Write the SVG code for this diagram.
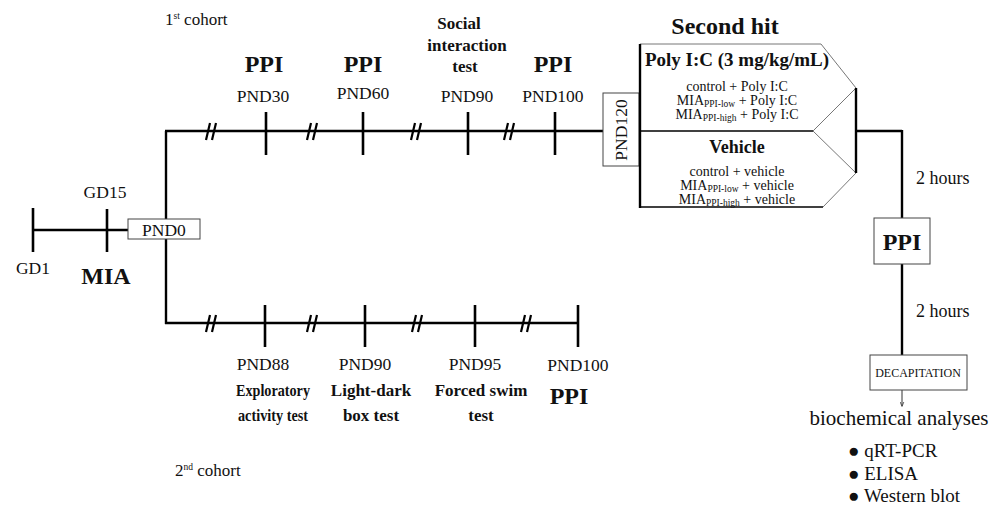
<svg xmlns="http://www.w3.org/2000/svg" width="998" height="508" viewBox="0 0 998 508">
<style>
text{font-family:"Liberation Serif","Times New Roman",serif;fill:#111}
.n{font-size:17.5px;text-anchor:middle}
.b{font-weight:bold;font-size:17px;text-anchor:middle}
.p{font-weight:bold;font-size:24px;text-anchor:middle}
.s{font-size:14px;text-anchor:middle}
.sub{font-size:9.5px}
.ln{stroke:#000;stroke-width:2.4;fill:none}
.tk{stroke:#000;stroke-width:2.6;fill:none}
.br{stroke:#000;stroke-width:2.2;fill:none}
.bx{fill:#fff;stroke:#444;stroke-width:1}
.th{stroke:#777;stroke-width:1;fill:none}
</style>
<defs>
<marker id="ah" viewBox="0 0 10 10" refX="9" refY="5" markerWidth="5" markerHeight="5" orient="auto"><path d="M0,1 L10,5 L0,9" fill="none" stroke="#333" stroke-width="1.5"/></marker>
</defs>
<g id="connectors">
<line class="ln" x1="33" y1="230" x2="128" y2="230"/>
<line class="ln" x1="166" y1="131" x2="166" y2="219"/>
<line class="ln" x1="166" y1="239" x2="166" y2="324"/>
<line class="ln" x1="165" y1="131" x2="603" y2="131"/>
<line class="ln" x1="165" y1="323" x2="578" y2="323"/>
<line class="ln" x1="856" y1="131" x2="902" y2="131"/>
<line class="ln" x1="902" y1="130" x2="902" y2="218"/>
<line class="ln" x1="902" y1="264" x2="902" y2="355"/>
<line x1="902" y1="390" x2="902" y2="406" stroke="#333" stroke-width="1" marker-end="url(#ah)"/>
<path class="br" d="M206,140 L210,123 M212,140 L216,123"/>
<path class="br" d="M307,140 L311,123 M313,140 L317,123"/>
<path class="br" d="M411,140 L415,123 M417,140 L421,123"/>
<path class="br" d="M504,140 L508,123 M510,140 L514,123"/>
<path class="br" d="M206,332 L210,315 M212,332 L216,315"/>
<path class="br" d="M307,332 L311,315 M313,332 L317,315"/>
<path class="br" d="M412,332 L416,315 M418,332 L422,315"/>
<path class="br" d="M521,332 L525,315 M527,332 L531,315"/>
</g>
<g id="gd1"><line class="tk" x1="33" y1="208" x2="33" y2="252"/><text class="n" x="33" y="274">GD1</text></g>
<g id="gd15"><line class="tk" x1="107" y1="209" x2="107" y2="252"/><text class="n" x="105" y="198">GD15</text><text class="p" x="106" y="284">MIA</text></g>
<g id="pnd0"><rect class="bx" x="128" y="219" width="72" height="20"/><text class="n" x="164" y="235.5">PND0</text></g>
<g id="cohort1-labels"><text x="165" y="25" style="font-size:17px">1<tspan class="sub" dy="-6">st</tspan><tspan dy="6"> cohort</tspan></text></g>
<g id="pnd30"><line class="tk" x1="266" y1="112" x2="266" y2="155"/><text class="n" x="263" y="102">PND30</text><text class="p" x="264" y="72">PPI</text></g>
<g id="pnd60"><line class="tk" x1="363" y1="112" x2="363" y2="155"/><text class="n" x="363" y="99">PND60</text><text class="p" x="363" y="72">PPI</text></g>
<g id="pnd90"><line class="tk" x1="468" y1="112" x2="468" y2="155"/><text class="n" x="467" y="102">PND90</text><text class="b" x="459" y="29">Social</text><text class="b" x="467" y="51">interaction</text><text class="b" x="465" y="72">test</text></g>
<g id="pnd100"><line class="tk" x1="555" y1="112" x2="555" y2="155"/><text class="n" x="553" y="102">PND100</text><text class="p" x="553" y="72">PPI</text></g>
<g id="pnd120"><rect class="bx" x="603" y="93" width="36" height="73"/><text class="n" transform="translate(627,130) rotate(-90)">PND120</text></g>
<g id="second-hit">
<text class="p" x="725" y="34">Second hit</text>
<path class="th" d="M640,44 L821,44 L856,88 L813,131 M813,131 L856,173 L823,207"/>
<line class="ln" x1="640" y1="44" x2="640" y2="208"/>
<line stroke="#000" stroke-width="1.6" x1="640" y1="131" x2="813" y2="131"/>
<line stroke="#000" stroke-width="1.6" x1="640" y1="207" x2="823" y2="207"/>
<line class="ln" x1="856" y1="88" x2="856" y2="173"/>
<text x="737" y="66" style="font-weight:bold;font-size:19px;text-anchor:middle">Poly I:C (3 mg/kg/mL)</text>
<text class="s" x="737" y="91">control  + Poly  I:C</text>
<text class="s" x="737" y="105">MIA<tspan class="sub" dy="2">PPI-low</tspan><tspan dy="-2"> + Poly  I:C</tspan></text>
<text class="s" x="737" y="119">MIA<tspan class="sub" dy="2">PPI-high</tspan><tspan dy="-2"> + Poly  I:C</tspan></text>
<text x="737" y="153" style="font-weight:bold;font-size:18px;text-anchor:middle">Vehicle</text>
<text class="s" x="737" y="176">control  + vehicle</text>
<text class="s" x="737" y="190">MIA<tspan class="sub" dy="2">PPI-low</tspan><tspan dy="-2"> + vehicle</tspan></text>
<text class="s" x="737" y="204">MIA<tspan class="sub" dy="2">PPI-high</tspan><tspan dy="-2"> + vehicle</tspan></text>
</g>
<g id="hours1"><text x="916" y="184" style="font-size:18px">2 hours</text></g>
<g id="ppi-box"><rect class="bx" x="874" y="218" width="56" height="46"/><text class="p" x="902" y="250">PPI</text></g>
<g id="hours2"><text x="916" y="317" style="font-size:18px">2 hours</text></g>
<g id="decap"><rect class="bx" x="870" y="355" width="97" height="35"/><text x="918" y="377" style="font-size:12px;text-anchor:middle">DECAPITATION</text></g>
<g id="analyses">
<text x="899" y="425" style="font-size:21px;text-anchor:middle">biochemical analyses</text>
<text x="848" y="457" style="font-size:19px">● qRT-PCR</text>
<text x="848" y="480" style="font-size:19px">● ELISA</text>
<text x="848" y="502" style="font-size:19px">● Western blot</text>
</g>
<g id="pnd88"><line class="tk" x1="265" y1="305" x2="265" y2="347"/><text class="n" x="263" y="370">PND88</text><text class="b" x="273" y="396" textLength="74" lengthAdjust="spacingAndGlyphs">Exploratory</text><text class="b" x="273" y="421" textLength="70" lengthAdjust="spacingAndGlyphs">activity test</text></g>
<g id="pnd90b"><line class="tk" x1="365" y1="305" x2="365" y2="347"/><text class="n" x="365" y="370">PND90</text><text class="b" x="371" y="396">Light-dark</text><text class="b" x="371" y="421">box test</text></g>
<g id="pnd95"><line class="tk" x1="475" y1="305" x2="475" y2="347"/><text class="n" x="475" y="370">PND95</text><text class="b" x="481" y="396">Forced swim</text><text class="b" x="481" y="421">test</text></g>
<g id="pnd100b"><line class="tk" x1="578" y1="305" x2="578" y2="347"/><text class="n" x="578" y="371">PND100</text><text class="p" x="569" y="404">PPI</text></g>
<g id="cohort2-labels"><text x="175" y="476" style="font-size:17px">2<tspan class="sub" dy="-6">nd</tspan><tspan dy="6"> cohort</tspan></text></g>
</svg>
